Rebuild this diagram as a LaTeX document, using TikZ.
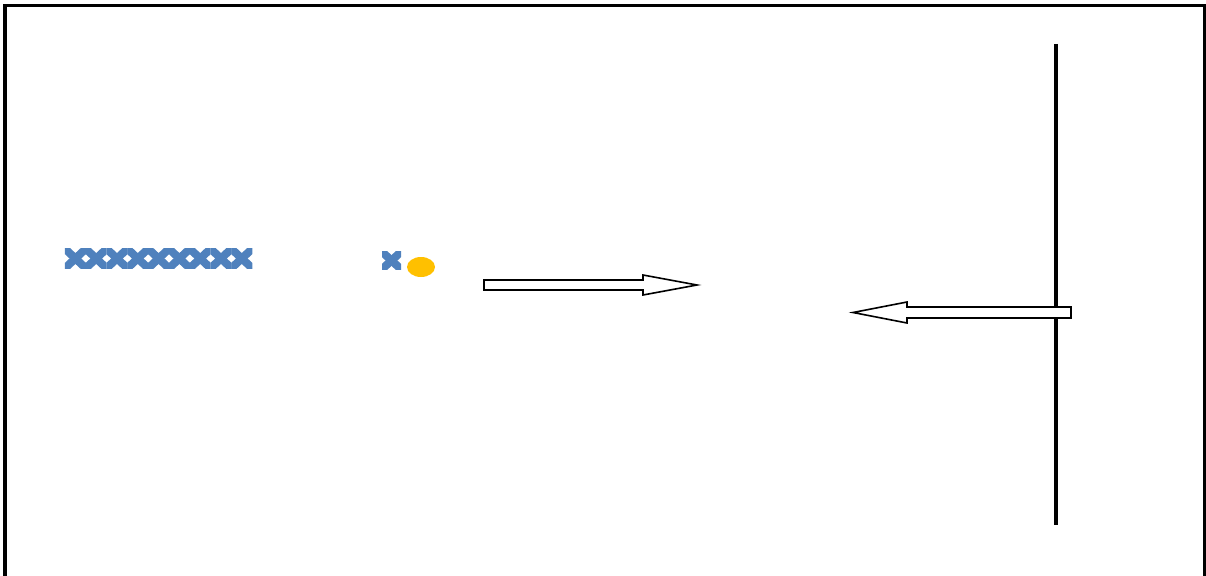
\documentclass[tikz,border=0pt]{standalone}
\definecolor{mblue}{RGB}{79,129,189}
\definecolor{myellow}{RGB}{255,192,0}
\tikzset{
  xmark/.style={draw=mblue, line width=8pt, line cap=butt},
  blockarrow/.style={draw=black, fill=white, line width=1.6pt, line join=miter},
  frameline/.style={draw=black, line width=3.5pt},
  wall/.style={draw=black, line width=3.5pt}
}
\newcommand{\xmarker}[4]{% cx cy hw hh
  \begin{scope}
  \clip (#1-#3,#2-#4) rectangle (#1+#3,#2+#4);
  \draw[xmark] (#1-#3*1.5,#2-#4*1.5) -- (#1+#3*1.5,#2+#4*1.5);
  \draw[xmark] (#1-#3*1.5,#2+#4*1.5) -- (#1+#3*1.5,#2-#4*1.5);
  \end{scope}
}
\begin{document}
\begin{tikzpicture}[x=1pt,y=-1pt]
\useasboundingbox (0,0) rectangle (1206,575);
\clip (0,0) rectangle (1206,575);
\draw[frameline] (5,5.5) rectangle (1204.5,600);
% queue of X markers
\foreach \i in {0,...,8} {
  \pgfmathsetmacro{\cx}{75.4+20.8*\i}
  \xmarker{\cx}{258.5}{10.5}{9.8}
}
% single X and yellow dot
\xmarker{391.5}{260.5}{9.5}{8.7}
\fill[myellow] (421,267) ellipse (14 and 10);
% wall
\coordinate (wtop) at (1056,44);
\coordinate (wbot) at (1056,525);
\draw[wall] (wtop) -- (wbot);
% right arrow
\draw[blockarrow] (484,280) -- (643,280) -- (643,275) -- (697,285) -- (643,295) -- (643,290) -- (484,290) -- cycle;
% left arrow
\draw[blockarrow] (1071,307) -- (907,307) -- (907,302) -- (853,312.5) -- (907,323) -- (907,318) -- (1071,318) -- cycle;
\end{tikzpicture}
\end{document}
